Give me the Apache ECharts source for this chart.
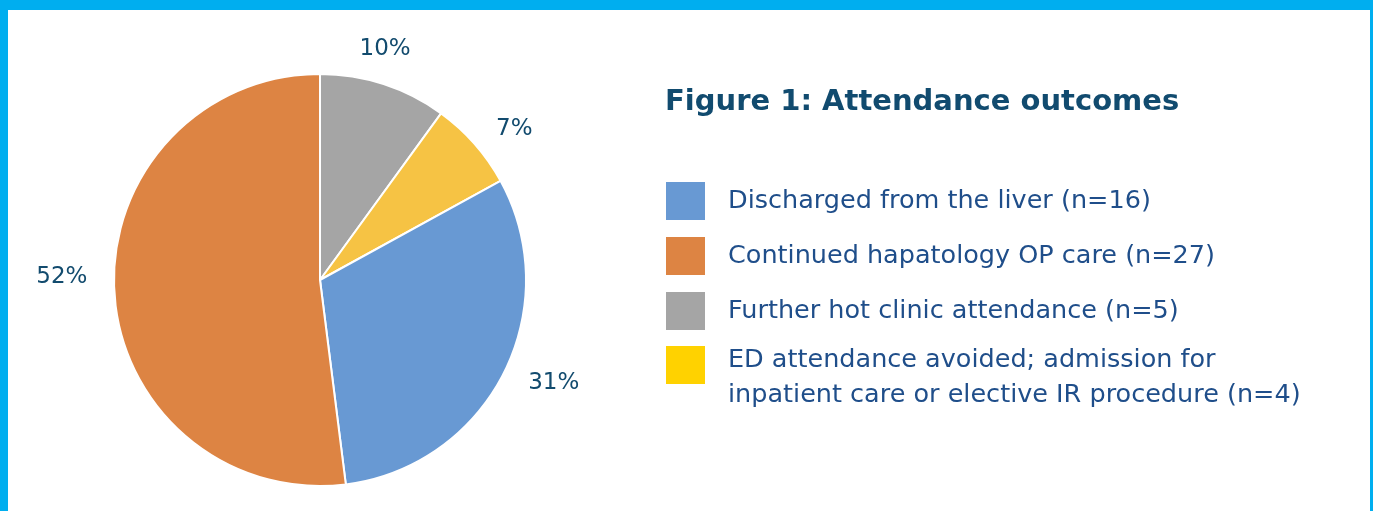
<!DOCTYPE html>
<html>
<head>
<meta charset="utf-8">
<script src="https://cdn.jsdelivr.net/npm/echarts@6/dist/echarts.min.js"></script>
<style>
  html, body { margin: 0; padding: 0; background: #fff; }
  #chart { position: absolute; left: 0; top: 0; width: 1373px; height: 511px; }
  #frame {
    position: absolute; left: 0; top: 0; width: 1373px; height: 511px;
    box-sizing: border-box; pointer-events: none;
    border-top: 10px solid #00AEEF; border-left: 8px solid #00AEEF; border-right: 3px solid #00AEEF;
  }
</style>
</head>
<body>
<div id="chart"></div>
<div id="frame"></div>
<script>
// legend order (as in the figure)
const categories = [
  'Discharged from the liver (n=16)',
  'Continued hapatology OP care (n=27)',
  'Further hot clinic attendance (n=5)',
  'ED attendance avoided; admission for\ninpatient care or elective IR procedure (n=4)'
];
const counts = [16, 27, 5, 4];
// slice shares (%)
const shares = [31, 52, 10, 7];
const pctLabels = ['31%', '52%', '10%', '7%'];
const sliceColors = ['#6899D3', '#DD8443', '#A5A5A5', '#F6C344'];
const legendColors = ['#6899D3', '#DD8443', '#A5A5A5', '#FFD200'];
// clockwise order of slices from 12 o'clock
const pieOrder = [2, 3, 0, 1];

const FONT = 'DejaVu Sans';
const LABEL_COLOR = '#124B6E';
const TEXT_COLOR = '#1F4E8A';
const chart = echarts.init(document.getElementById('chart'));

// the top slice's label sits centred above the slice, the rest sit outside
const labelNudge = { 1: [0, -17], 2: [-10, 0] };
const pieData = pieOrder.map(i => ({
  name: categories[i],
  value: shares[i],
  itemStyle: { color: sliceColors[i] },
  label: { show: i !== 2, formatter: pctLabels[i], offset: labelNudge[i] || [0, 0] }
}));
const topLabelData = pieOrder.map(i => ({
  name: categories[i],
  value: shares[i],
  label: { show: i === 2, formatter: pctLabels[i], offset: labelNudge[i] || [0, 0] }
}));

const legendBase = {
  orient: 'vertical',
  left: 666,
  padding: 0,
  itemWidth: 39,
  itemHeight: 38,
  itemGap: 17,
  icon: 'rect',
  selectedMode: false,
  itemStyle: { borderWidth: 0 }
};
const legendText = { fontFamily: FONT, fontSize: 25.5, color: TEXT_COLOR, lineHeight: 35, padding: [0, 0, 0, 18] };

chart.setOption({
  animation: false,
  title: {
    text: 'Figure 1: Attendance outcomes',
    left: 660,
    top: 83,
    textStyle: { fontFamily: FONT, fontSize: 29, fontWeight: 'bold', color: '#114B6F' }
  },
  legend: [
    Object.assign({}, legendBase, {
      top: 182,
      textStyle: legendText,
      data: [0, 1, 2].map(i => ({ name: categories[i], itemStyle: { color: legendColors[i] } }))
    }),
    // two-line entry: text hangs from the top of its swatch (spacer line above)
    Object.assign({}, legendBase, {
      top: 317,
      textStyle: Object.assign({}, legendText, {
        rich: {
          s: { fontSize: 10, lineHeight: 26 },
          t: { fontFamily: FONT, fontSize: 25.5, color: TEXT_COLOR, lineHeight: 35 }
        }
      }),
      formatter: name => '{s| }\n' + name.split('\n').map(l => '{t|' + l + '}').join('\n'),
      data: [{ name: categories[3], itemStyle: { color: legendColors[3] } }]
    })
  ],
  series: [
    {
      type: 'pie',
      center: [320, 280],
      radius: [0, 206],
      startAngle: 90,
      clockwise: true,
      silent: true,
      avoidLabelOverlap: false,
      label: {
        position: 'outside',
        fontFamily: FONT,
        fontSize: 23,
        color: LABEL_COLOR,
        distanceToLabelLine: 5
      },
      labelLine: { show: false, length: 22, length2: 0 },
      itemStyle: { borderColor: '#fff', borderWidth: 2 },
      data: pieData
    },
    {
      type: 'pie',
      center: [320, 280],
      radius: [238, 242],
      startAngle: 90,
      clockwise: true,
      silent: true,
      itemStyle: { color: 'rgba(0,0,0,0)' },
      label: {
        position: 'inside',
        fontFamily: FONT,
        fontSize: 23,
        color: LABEL_COLOR
      },
      labelLine: { show: false },
      data: topLabelData
    }
  ]
});
</script>
</body>
</html>
